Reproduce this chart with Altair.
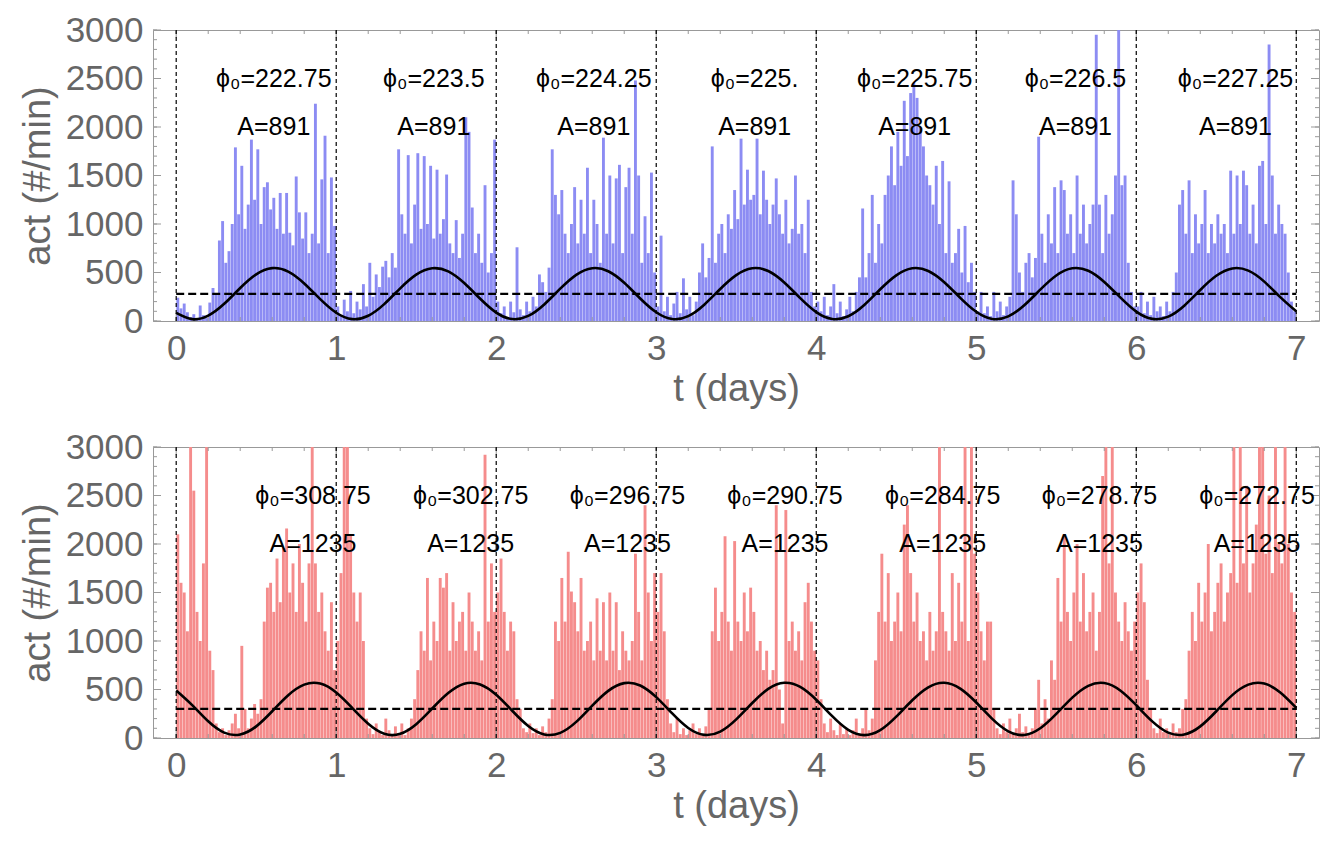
import altair as alt
import pandas as pd

# ---------------- data ----------------
days = [0, 1, 2, 3, 4, 5, 6, 7]
y_labels = [0, 500, 1000, 1500, 2000, 2500, 3000]
x_minor = [round(0.2 * i, 1) for i in range(36)]
y_minor = list(range(0, 3001, 100))

# activity (#/min), one list per day, bins of 0.02 day
top_activity = [
    [240,130,180,90,40,70,30,160,60,30, 190,340,280,830,1030,600,720,1000,1790,1100,
     1600,950,1200,1870,1250,1770,1000,1380,1430,1150, 1270,950,1320,900,1320,910,780,1490,1120,850,
     1120,700,900,2240,800,1460,1910,700,1480,980],
    [150,60,220,100,310,80,200,120,380,150, 600,250,480,350,560,620,450,700,550,1770,
     1100,900,1710,800,1200,1730,950,1700,1000,1600, 850,1560,900,1050,1510,800,700,1040,650,900,
     2100,1950,1170,700,900,600,1400,500,700,1870],
    [200,80,150,40,200,90,760,120,60,200, 100,250,150,480,400,300,550,1770,1300,1100,
     1350,900,700,1000,1380,800,1250,900,1580,700, 1250,1000,600,1890,900,1500,800,1470,1610,700,
     1380,1580,900,2480,1500,600,1080,700,1530,500],
    [150,880,100,250,60,180,300,80,440,120, 250,60,200,500,800,450,650,1800,600,900,
     1000,700,1100,950,1350,1050,1880,1200,1560,1250, 1300,1880,1100,1550,1250,1000,1200,1470,1100,900,
     1250,800,950,1500,900,1000,700,1250,300,150],
    [200,100,250,60,150,380,80,200,50,120, 250,100,300,450,1160,450,700,1300,600,1000,
     800,1300,1500,1800,1400,1950,1600,2270,1700,2350, 2450,2300,2000,1800,1500,1400,1200,1600,1000,1650,
     700,1440,600,700,950,500,980,400,600,300],
    [100,300,80,150,50,300,100,200,60,150, 250,1450,1100,500,300,600,700,450,650,1900,
     900,600,1100,800,1380,700,1450,1350,900,1100, 700,1500,900,1200,800,1000,1200,2950,1200,700,
     1300,900,1100,1500,3100,1400,1500,600,300,150],
    [150,300,80,200,60,250,100,150,50,200, 100,300,500,1200,1350,900,1450,700,1100,800,
     1000,1350,700,1000,800,1100,900,1000,700,1550, 900,1500,1000,1550,1400,900,1200,800,1600,1650,
     1000,2850,1500,900,1200,1000,900,500,200,100],
]
bottom_activity = [
    [2100,1600,1500,1100,3050,2550,1300,1000,1800,3050, 900,700,150,60,100,30,80,150,250,100,
     950,300,100,200,350,250,400,1200,1550,1600, 1300,1850,1400,1960,2160,1500,1800,1300,2000,1600,
     1200,1800,3050,1800,1300,1500,1100,900,1400,700],
    [1000,1700,3050,3050,2100,1500,1200,1500,1000,200, 100,40,150,60,30,200,80,40,120,50,
     150,30,100,200,400,700,1100,900,1650,800, 1200,1000,1650,1550,1700,900,1400,1000,1200,1300,
     900,1500,1200,900,1100,800,2920,1200,1800,1300],
    [1500,1850,1300,900,1200,1100,400,300,100,60, 150,50,100,30,120,60,200,400,1200,1000,
     1650,1200,1920,1510,1400,1100,1650,900,1000,1200, 800,1440,900,1400,800,1500,900,1400,700,1100,
     900,800,1000,1900,1300,800,2400,1500,1000,1700],
    [1300,1700,1100,400,150,60,200,40,100,30, 80,150,40,100,30,120,300,1100,1550,1000,
     1300,2080,1200,900,2030,1200,1000,1500,1100,1550, 1300,900,1000,700,900,600,700,2400,500,150,
     2350,1000,1200,900,1100,800,1400,1600,1200,900],
    [800,400,150,60,200,80,30,150,40,100, 30,80,200,50,100,300,80,200,800,1300,
     1900,1200,1700,1000,1200,1500,1100,2200,2400,1700, 1200,1500,1000,1100,800,1300,900,1100,3050,1300,
     1100,900,1700,1000,1600,1200,3050,1000,3050,1900],
    [1500,1100,800,1200,1200,300,100,40,150,60, 200,50,100,250,60,120,40,100,300,600,
     150,400,200,800,600,1650,1200,2100,1300,1000, 1500,2000,1200,1700,1100,1300,1500,900,1300,2700,
     3050,1800,3050,1500,1200,1000,1400,1100,900,1200],
    [1500,1800,1400,600,300,100,50,200,60,100, 40,150,60,100,300,400,900,1300,1000,1600,
     1200,1500,2000,1100,1300,1600,1800,1200,1500,1700, 3050,1600,3050,1800,2600,1500,1800,2200,3050,3050,
     1900,2500,1700,3050,2000,1800,3050,2000,1500,1300],
]

# fitted cosine curves, read every 0.1 day
fit_t = [round(0.1 * i, 1) for i in range(71)]
top_fit = [83,19,55,177,340,481,545,509,387,225,
           85,19,54,174,337,478,544,511,391,229,
           87,20,52,171,333,476,544,513,394,232,
           90,20,50,168,330,473,544,515,397,236,
           92,21,49,165,327,471,543,516,400,239,
           95,21,47,162,323,469,543,518,403,243,
           97,22,45,158,320,466,542,519,406,246,
           99]
bottom_fit = [490,339,172,55,36,120,276,441,550,561,
              469,310,147,44,43,142,304,463,560,552,
              446,281,124,37,53,166,333,486,566,541,
              421,253,103,32,66,192,361,506,569,526,
              394,225,84,30,81,220,389,523,570,509,
              366,197,69,31,100,248,416,538,567,490,
              338,171,55,36,120,276,442,550,561,469,
              310]
top_mean = 280
bottom_mean = 300

top_label_t = [0.61, 1.61, 2.61, 3.615, 4.615, 5.62, 6.62]
bottom_label_t = [0.855, 1.84, 2.82, 3.805, 4.79, 5.77, 6.755]
top_phi = ["222.75", "223.5", "224.25", "225.", "225.75", "226.5", "227.25"]
bottom_phi = ["308.75", "302.75", "296.75", "290.75", "284.75", "278.75", "272.75"]
top_A = "891"
bottom_A = "1235"

# ---------------- styling ----------------
W, H = 1166, 291
XDOM = [-0.145, 7.142]
GRAY = "#999999"
LABEL = "#666666"
FONT = "Liberation Sans"
BLUE = "#8c8cf3"
RED = "#f58c8c"


def panel(activity, fit, mean, label_t, phis, amp, color):
    xs = alt.Scale(domain=XDOM, nice=False, zero=False)
    ys = alt.Scale(domain=[0, 3000], nice=False, clamp=True)

    act_df = pd.DataFrame(
        [{"t": d + 0.01 + 0.02 * k, "v": v}
         for d, day in enumerate(activity) for k, v in enumerate(day)]
    )
    fit_df = pd.DataFrame({"t": fit_t, "v": fit})
    mean_df = pd.DataFrame({"t": [days[0]], "t1": [days[-1]], "v": [mean]})
    day_df = pd.DataFrame({"t": days})
    txt_df = pd.DataFrame({"t": label_t,
                           "phi": ["ϕ₀=" + p for p in phis],
                           "amp": ["A=" + amp] * len(phis)})

    xaxis = alt.Axis(values=days, format="d", title="t (days)", ticks=False, domain=False,
                     grid=False, labelFont=FONT, labelFontSize=35, labelColor=LABEL,
                     labelPadding=10, labelFlush=False, titleFont=FONT, titleFontSize=38,
                     titleColor=LABEL, titleFontWeight="normal", titlePadding=4)
    yaxis = alt.Axis(values=y_labels, format="d", title="act (#/min)", ticks=False, domain=False,
                     grid=False, labelFont=FONT, labelFontSize=35, labelColor=LABEL,
                     labelPadding=10, labelFlush=False, titleFont=FONT, titleFontSize=38,
                     titleColor=LABEL, titleFontWeight="normal", titlePadding=8)

    X = alt.X("t:Q", scale=xs)
    Y = alt.Y("v:Q", scale=ys)

    act = alt.Chart(act_df).mark_rule(color=color, strokeWidth=2.9, clip=True).encode(
        x=alt.X("t:Q", scale=xs, axis=xaxis),
        y=alt.Y("v:Q", scale=ys, axis=yaxis),
        y2=alt.datum(0),
    )
    daylines = alt.Chart(day_df).mark_rule(color="black", strokeWidth=1.2, strokeDash=[4, 3]).encode(
        x=X
    )
    meanline = alt.Chart(mean_df).mark_rule(color="black", strokeWidth=2.2, strokeDash=[8, 4]).encode(
        x=X, x2="t1:Q", y=Y,
    )
    fitline = alt.Chart(fit_df).mark_line(color="black", strokeWidth=2.6, interpolate="natural").encode(
        x=X, y=Y,
    )
    phi_txt = alt.Chart(txt_df).mark_text(font=FONT, fontSize=25, color="black", align="center",
                                          baseline="middle").encode(
        x=X, y=alt.datum(2500), text="phi:N")
    amp_txt = alt.Chart(txt_df).mark_text(font=FONT, fontSize=25, color="black", align="center",
                                          baseline="middle").encode(
        x=X, y=alt.datum(2000), text="amp:N")

    ticks = []
    for vals, L in [(x_minor, 4), (days, 8)]:
        df = pd.DataFrame({"t": vals})
        ticks.append(alt.Chart(df).mark_rule(color=GRAY, strokeWidth=1).encode(
            x=X, y=alt.value(H), y2=alt.value(H - L)))
        ticks.append(alt.Chart(df).mark_rule(color=GRAY, strokeWidth=1).encode(
            x=X, y=alt.value(0), y2=alt.value(L)))
    for vals, L in [(y_minor, 4), (y_labels, 8)]:
        df = pd.DataFrame({"v": vals})
        ticks.append(alt.Chart(df).mark_rule(color=GRAY, strokeWidth=1).encode(
            y=Y, x=alt.value(0), x2=alt.value(L)))
        ticks.append(alt.Chart(df).mark_rule(color=GRAY, strokeWidth=1).encode(
            y=Y, x=alt.value(W), x2=alt.value(W - L)))

    return alt.layer(act, *ticks, daylines, meanline, fitline, phi_txt, amp_txt).properties(
        width=W, height=H)


top = panel(top_activity, top_fit, top_mean, top_label_t, top_phi, top_A, BLUE)
bottom = panel(bottom_activity, bottom_fit, bottom_mean, bottom_label_t, bottom_phi, bottom_A, RED)

chart = alt.vconcat(top, bottom, spacing=20).properties(
    padding={"left": 10, "top": 4, "right": 5, "bottom": 0},
    background="white",
).configure_view(stroke=GRAY, strokeWidth=1)

chart.save("out.html", embed_options={"renderer": "svg", "actions": False})
